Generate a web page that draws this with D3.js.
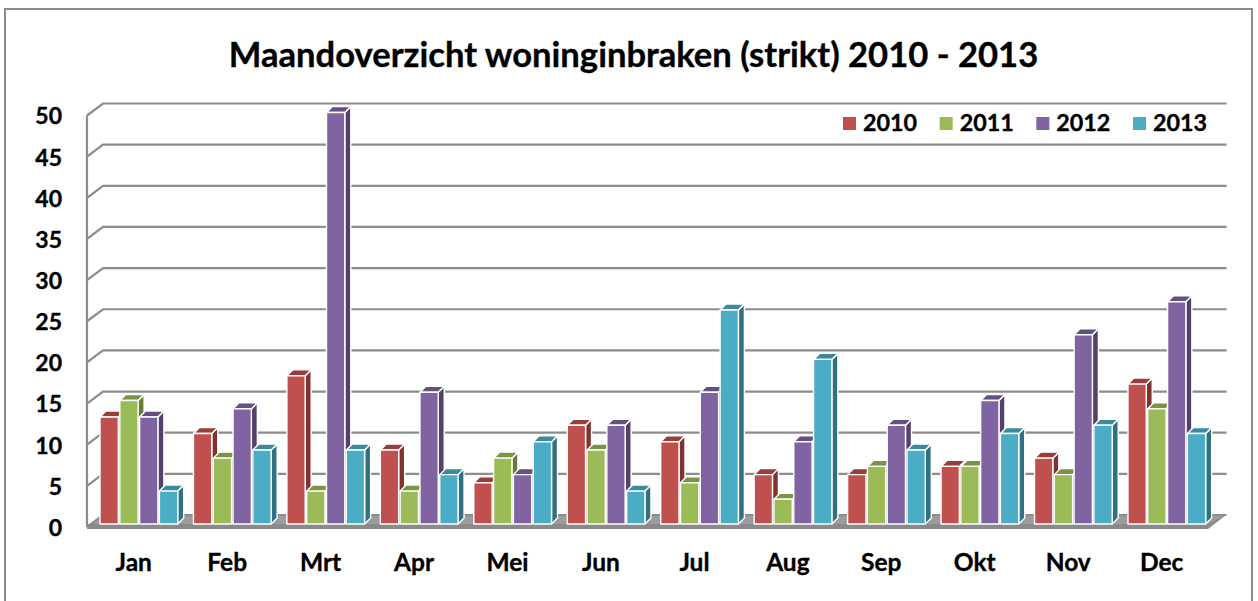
<!DOCTYPE html>
<html><head><meta charset="utf-8">
<script src="https://cdn.jsdelivr.net/npm/d3@7"></script>
<style>html,body{margin:0;padding:0;background:#fff}svg{display:block}text{font-family:Lato,"Open Sans",sans-serif;font-weight:700;fill:#000;stroke:#000;stroke-width:.35px}</style>
</head><body><div id="c"></div>
<script>
const months=["Jan","Feb","Mrt","Apr","Mei","Jun","Jul","Aug","Sep","Okt","Nov","Dec"];
const seriesNames=["2010","2011","2012","2013"];
const v2010=[13,11,18,9,5,12,10,6,6,7,8,17];
const v2011=[15,8,4,4,8,9,5,3,7,7,6,14];
const v2012=[13,14,50,16,6,12,16,10,12,15,23,27];
const v2013=[4,9,9,6,10,4,26,20,9,11,12,11];
const yTicks=[0,5,10,15,20,25,30,35,40,45,50];
const faceColors=["#C0504D","#9BBB59","#8064A2","#4BACC6"];
const sideColors=["#7F3331","#667C38","#54406D","#2F7082"];
const topColors=["#983D3A","#7A9444","#664F82","#3A8BA0"];
const seriesValues=[v2010,v2011,v2012,v2013];
const title="Maandoverzicht woninginbraken (strikt) 2010 - 2013";

const W=1258,H=601,wallDx=16,wallDy=-12,barDx=6,barDy=-6;
const svg=d3.select("#c").append("svg").attr("width",W).attr("height",H);
svg.append("rect").attr("x",5).attr("y",9).attr("width",1247).attr("height",H+20)
  .attr("fill","#fff").attr("stroke","#8c8c8c").attr("stroke-width",2);
svg.append("text").attr("x",633.5).attr("y",67).attr("text-anchor","middle").attr("font-size",34.6).text(title);

const y=d3.scaleLinear().domain([0,50]).range([527,115.5]);
const x=d3.scaleBand().domain(months).range([87,1208.4]);
const xs=d3.scaleBand().domain(seriesNames).range([0,79.2]);

const grid=svg.append("g").attr("fill","none").attr("stroke","#8c8c8c").attr("stroke-width",2.2);
svg.insert("polygon","g").attr("fill","#9c9c9c").attr("points",[[87,y(0)],[87+wallDx,y(0)+wallDy],[1208+wallDx+2,y(0)+wallDy],[1208,y(0)]].join(" "));
yTicks.forEach(t=>{
  grid.append("path").attr("d",`M87,${y(t)}L${87+wallDx},${y(t)+wallDy}H1226.5`);
});
grid.append("path").attr("d",`M87,${y(50)}V${y(0)}`);
svg.append("polygon").attr("fill","#8a8a8a").attr("points",[[87,y(0)-3],[1208,y(0)-3],[1226,y(0)+wallDy],[1208,y(0)+2],[87,y(0)+2]].join(" "));

const groups=svg.selectAll("g.m").data(months).join("g").attr("class","m");
groups.each(function(m,i){
  const g=d3.select(this);
  seriesNames.forEach((s,k)=>{
    const v=seriesValues[k][i];
    const x0=x(m)+13+xs(s), w=xs.bandwidth()-1.5, t=y(v)-3, b=y(0)-3;
    const bar=g.append("g").attr("stroke","#fff").attr("stroke-width",1.4).attr("stroke-linejoin","round");
    bar.append("polygon").attr("fill",sideColors[k]).attr("points",[[x0+w,t],[x0+w+barDx,t+barDy],[x0+w+barDx,b+barDy],[x0+w,b]].join(" "));
    bar.append("polygon").attr("fill",topColors[k]).attr("points",[[x0,t],[x0+barDx,t+barDy],[x0+w+barDx,t+barDy],[x0+w,t]].join(" "));
    bar.append("rect").attr("x",x0).attr("y",t).attr("width",w).attr("height",b-t).attr("fill",faceColors[k]);
  });
});

const yAxis=svg.append("g").attr("transform","translate(62,1)").call(d3.axisLeft(y).tickValues(yTicks).tickSize(0).tickPadding(0));
yAxis.select(".domain").remove();
yAxis.selectAll("text").attr("font-size",23).attr("font-family",null);
const xAxis=svg.append("g").attr("transform","translate(0,562)").call(d3.axisBottom(x).tickSize(0).tickPadding(0));
xAxis.select(".domain").remove();
xAxis.selectAll("text").attr("font-size",24.5).attr("font-family",null).attr("dy","0.35em");

const legendX=d3.scalePoint().domain(seriesNames).range([843,1133]);
const lg=svg.selectAll("g.l").data(seriesNames).join("g").attr("class","l").attr("transform",d=>`translate(${legendX(d)},117)`);
lg.append("rect").attr("width",13).attr("height",13).attr("fill",(d,i)=>faceColors[i]);
lg.append("text").attr("x",20).attr("y",14).attr("font-size",23.3).text(d=>d);
</script></body></html>
